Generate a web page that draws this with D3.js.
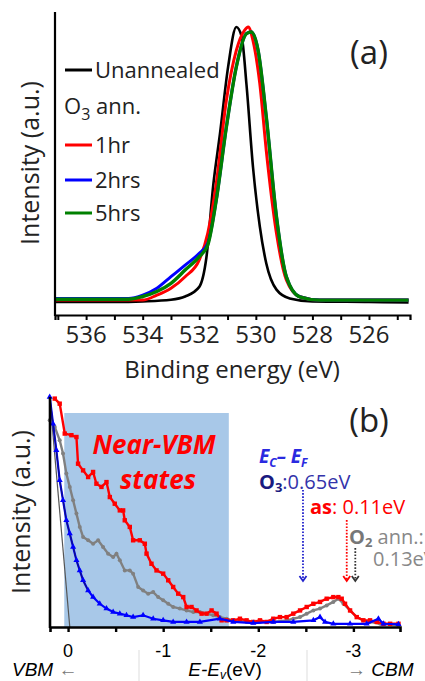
<!DOCTYPE html>
<html>
<head>
<meta charset="utf-8">
<script src="https://cdn.jsdelivr.net/npm/d3@7"></script>
<style>
    html, body { margin: 0; padding: 0; background: #fff; overflow: hidden; }
    svg { display: block; }
    .cal { font-family: 'Open Sans', 'Lato', sans-serif; }
    .ari { font-family: 'Liberation Sans', Arial, sans-serif; }
</style>
</head>
<body>
<div id="chart"></div>
<script>
// ---- panel (a): O 1s spectra, [binding energy (eV), normalised intensity]
const bindingTicks = [537, 536, 535, 534, 533, 532, 531, 530, 529, 528, 527, 526, 525];
const bindingLabels = [536, 534, 532, 530, 528, 526];

const unannealed = [
    [537.1, 0.0], [536, 0.0], [535, 0.0], [534, 0.002], [533, 0.008], [532.5, 0.02],
    [532, 0.055], [531.75, 0.16], [531.5, 0.43], [531.27, 0.61], [530.98, 0.855],
    [530.69, 1.0], [530.5, 0.965], [530.33, 0.79], [530.1, 0.49], [529.86, 0.275],
    [529.63, 0.14], [529.27, 0.045], [528.8, 0.013], [528, 0.002], [526, 0.0], [524.6, -0.002]
];
const o3Ann1hr = [
    [537.1, 0.007], [534, 0.007], [533.5, 0.025], [533, 0.05], [532.5, 0.092], [532, 0.153],
    [531.7, 0.25], [531.4, 0.43], [531.04, 0.734], [530.69, 0.915], [530.4, 0.988],
    [530.27, 1.0], [530.1, 0.95], [529.86, 0.794], [529.63, 0.55], [529.27, 0.25],
    [528.92, 0.08], [528.45, 0.019], [527.75, 0.007], [524.6, 0.007]
];
const o3Ann2hrs = [
    [537.1, 0.013], [534.5, 0.013], [534, 0.025], [533.5, 0.05], [533, 0.092], [532.5, 0.134],
    [532, 0.177], [531.7, 0.213], [531.4, 0.37], [531.04, 0.637], [530.69, 0.855],
    [530.33, 0.976], [530.16, 0.982], [529.92, 0.915], [529.63, 0.673], [529.27, 0.31],
    [528.92, 0.092], [528.45, 0.019], [527.75, 0.007], [524.6, 0.007]
];
const o3Ann5hrs = [
    [537.1, 0.01], [534.5, 0.01], [534, 0.02], [533.5, 0.038], [533, 0.068], [532.5, 0.116],
    [532, 0.165], [531.7, 0.207], [531.4, 0.37], [531.04, 0.637], [530.69, 0.855],
    [530.33, 0.976], [530.16, 0.982], [529.92, 0.915], [529.63, 0.673], [529.27, 0.31],
    [528.92, 0.092], [528.45, 0.019], [527.75, 0.007], [524.6, 0.007]
];
const legendNames = ['Unannealed', '1hr', '2hrs', '5hrs'];
const legendColors = ['#000000', '#ff0000', '#0000ff', '#008000'];

// ---- panel (b): valence band edge, [E - Ev (eV), intensity]
const vbTicks = [0, -0.5, -1, -1.5, -2, -2.5, -3];
const vbLabels = [0, -1, -2, -3];
const nearVbmRange = [0.04, -1.69];
const vbmFit = [[0.193, 1.0], [-0.018, 0.0]];

const vbAsGrown = [
    [0.14, 0.993], [0.088, 0.971], [0.035, 0.841], [-0.035, 0.834], [-0.088, 0.826],
    [-0.105, 0.71], [-0.158, 0.681], [-0.211, 0.652], [-0.263, 0.674], [-0.298, 0.623],
    [-0.351, 0.609], [-0.404, 0.63], [-0.439, 0.565], [-0.491, 0.536], [-0.544, 0.507],
    [-0.579, 0.507], [-0.596, 0.464], [-0.649, 0.435], [-0.684, 0.377], [-0.754, 0.377],
    [-0.807, 0.362], [-0.825, 0.319], [-0.877, 0.275], [-0.93, 0.246], [-1.0, 0.232],
    [-1.053, 0.203], [-1.105, 0.174], [-1.158, 0.145], [-1.211, 0.13], [-1.246, 0.087],
    [-1.298, 0.087], [-1.351, 0.072], [-1.404, 0.058], [-1.456, 0.058], [-1.509, 0.072],
    [-1.561, 0.058], [-1.614, 0.029], [-1.667, 0.029], [-1.737, 0.029], [-1.807, 0.036],
    [-1.877, 0.029], [-1.947, 0.022], [-2.018, 0.029], [-2.088, 0.022], [-2.158, 0.036],
    [-2.228, 0.043], [-2.298, 0.043], [-2.368, 0.058], [-2.439, 0.072], [-2.509, 0.087],
    [-2.579, 0.101], [-2.649, 0.109], [-2.719, 0.123], [-2.789, 0.13], [-2.842, 0.13],
    [-2.877, 0.123], [-2.912, 0.101], [-2.965, 0.072], [-3.035, 0.043], [-3.105, 0.029],
    [-3.175, 0.029], [-3.246, 0.022], [-3.316, 0.014], [-3.386, 0.014], [-3.474, 0.014]
];
const vbO2Ann = [
    [0.193, 0.899], [0.14, 0.87], [0.088, 0.812], [0.053, 0.754], [0.018, 0.667],
    [-0.018, 0.609], [-0.053, 0.551], [-0.088, 0.493], [-0.123, 0.435], [-0.158, 0.391],
    [-0.211, 0.377], [-0.263, 0.362], [-0.316, 0.377], [-0.368, 0.348], [-0.421, 0.319],
    [-0.474, 0.304], [-0.509, 0.319], [-0.544, 0.29], [-0.596, 0.246], [-0.649, 0.246],
    [-0.684, 0.232], [-0.737, 0.174], [-0.789, 0.159], [-0.842, 0.145], [-0.895, 0.152],
    [-0.947, 0.13], [-1.0, 0.116], [-1.053, 0.101], [-1.105, 0.087], [-1.175, 0.08],
    [-1.246, 0.072], [-1.316, 0.065], [-1.386, 0.065], [-1.456, 0.058], [-1.526, 0.051],
    [-1.596, 0.043], [-1.667, 0.036], [-1.737, 0.029], [-1.877, 0.022], [-2.018, 0.022],
    [-2.158, 0.022], [-2.298, 0.029], [-2.368, 0.036], [-2.439, 0.043], [-2.509, 0.058],
    [-2.579, 0.072], [-2.649, 0.08], [-2.719, 0.094], [-2.789, 0.109], [-2.842, 0.123],
    [-2.895, 0.101], [-2.965, 0.072], [-3.035, 0.043], [-3.105, 0.029], [-3.175, 0.022],
    [-3.281, 0.014], [-3.474, 0.007]
];
const vbO3Ann = [
    [0.193, 1.0], [0.158, 0.884], [0.123, 0.768], [0.088, 0.638], [0.053, 0.551],
    [0.018, 0.464], [-0.018, 0.406], [-0.053, 0.348], [-0.088, 0.29], [-0.123, 0.246],
    [-0.158, 0.203], [-0.211, 0.159], [-0.263, 0.13], [-0.333, 0.101], [-0.404, 0.08],
    [-0.474, 0.065], [-0.544, 0.058], [-0.614, 0.051], [-0.684, 0.043], [-0.789, 0.051],
    [-0.895, 0.036], [-1.0, 0.029], [-1.105, 0.022], [-1.246, 0.022], [-1.386, 0.022],
    [-1.596, 0.036], [-1.737, 0.022], [-1.947, 0.017], [-2.158, 0.022], [-2.368, 0.022],
    [-2.579, 0.029], [-2.649, 0.043], [-2.702, 0.022], [-2.789, 0.014], [-2.965, 0.014],
    [-3.14, 0.014], [-3.263, 0.036], [-3.316, 0.014], [-3.474, 0.012]
];
// conduction band minimum arrows: E position, top and bottom intensity
const cbmArrows = [
    { e: -2.47, top: 0.596, bottom: 0.2, color: '#2222cc' },
    { e: -2.93, top: 0.465, bottom: 0.2, color: '#ff0000' },
    { e: -3.02, top: 0.343, bottom: 0.2, color: '#333333' }
];

const WIDTH = 425;
const HEIGHT = 681;

const svg = d3.select('#chart').append('svg')
    .attr('width', WIDTH)
    .attr('height', HEIGHT);

drawPanelA();
drawPanelB();

function drawPanelA() {
    const x = d3.scaleLinear().domain([537.1, 524.55]).range([55, 410]);
    const y = d3.scaleLinear().domain([0, 1]).range([302, 27]);
    const g = svg.append('g');

    const line = d3.line()
        .x((d) => x(d[0]))
        .y((d) => y(d[1]))
        .curve(d3.curveMonotoneX);

    const series = [unannealed, o3Ann1hr, o3Ann2hrs, o3Ann5hrs];
    const widths = [2.6, 3, 3, 3.4];
    series.forEach((s, i) => {
        g.append('path')
            .datum(s)
            .attr('d', line)
            .attr('fill', 'none')
            .attr('stroke', legendColors[i])
            .attr('stroke-width', widths[i])
            .attr('stroke-linejoin', 'round');
    });

    // axes
    const xAxis = d3.axisBottom(x)
        .tickValues(bindingTicks)
        .tickSize(5)
        .tickFormat('');
    g.append('g')
        .attr('transform', 'translate(0,315)')
        .call(xAxis)
        .call((sel) => sel.select('.domain').attr('stroke-width', 2.2))
        .call((sel) => sel.selectAll('.tick line').attr('stroke-width', 2));

    g.selectAll('.xlab')
        .data(bindingLabels)
        .join('text')
        .attr('class', 'cal')
        .attr('x', (d) => x(d))
        .attr('y', 343)
        .attr('text-anchor', 'middle')
        .attr('font-size', 24)
        .attr('fill', '#222')
        .text((d) => d);

    g.append('line')
        .attr('x1', 55).attr('x2', 55)
        .attr('y1', 12).attr('y2', 316)
        .attr('stroke', '#000')
        .attr('stroke-width', 2.2);

    g.append('text')
        .attr('class', 'cal')
        .attr('x', 232)
        .attr('y', 378)
        .attr('text-anchor', 'middle')
        .attr('font-size', 24)
        .attr('fill', '#222')
        .text('Binding energy (eV)');

    g.append('text')
        .attr('class', 'cal')
        .attr('transform', 'translate(39,163) rotate(-90)')
        .attr('text-anchor', 'middle')
        .attr('font-size', 25)
        .attr('fill', '#222')
        .text('Intensity (a.u.)');

    g.append('text')
        .attr('class', 'cal')
        .attr('x', 369)
        .attr('y', 64)
        .attr('text-anchor', 'middle')
        .attr('font-size', 33)
        .attr('fill', '#222')
        .text('(a)');

    // legend
    const rows = [70, 145, 180, 213];
    legendNames.forEach((name, i) => {
        g.append('line')
            .attr('x1', 65).attr('x2', 92)
            .attr('y1', rows[i]).attr('y2', rows[i])
            .attr('stroke', legendColors[i])
            .attr('stroke-width', 3);
        g.append('text')
            .attr('class', 'cal')
            .attr('x', 95)
            .attr('y', rows[i] + 8)
            .attr('font-size', 22)
            .attr('fill', '#222')
            .text(name);
    });
    const o3 = g.append('text')
        .attr('class', 'cal')
        .attr('x', 64)
        .attr('y', 114)
        .attr('font-size', 22)
        .attr('fill', '#222');
    o3.append('tspan').text('O');
    o3.append('tspan').attr('dy', 6).attr('font-size', 16).text('3');
    o3.append('tspan').attr('dy', -6).text(' ann.');
}

function drawPanelB() {
    const x = d3.scaleLinear().domain([0.19, -3.49]).range([50, 400]);
    const y = d3.scaleLinear().domain([0, 1]).range([627, 397]);
    const g = svg.append('g');

    g.append('rect')
        .attr('x', x(nearVbmRange[0]))
        .attr('y', 413)
        .attr('width', x(nearVbmRange[1]) - x(nearVbmRange[0]))
        .attr('height', y(0) - 413)
        .attr('fill', '#a8c8e8');

    const line = d3.line()
        .x((d) => x(d[0]))
        .y((d) => y(d[1]));

    g.append('path')
        .datum(vbmFit)
        .attr('d', line)
        .attr('stroke', '#555')
        .attr('stroke-width', 1.2)
        .attr('fill', 'none');

    // gray O2 annealed, circles
    g.append('path')
        .datum(vbO2Ann)
        .attr('d', line)
        .attr('fill', 'none')
        .attr('stroke', '#808080')
        .attr('stroke-width', 2.4);
    g.selectAll('.pg')
        .data(vbO2Ann)
        .join('circle')
        .attr('cx', (d) => x(d[0]))
        .attr('cy', (d) => y(d[1]))
        .attr('r', 2)
        .attr('fill', '#808080');

    // red as-grown, squares
    g.append('path')
        .datum(vbAsGrown)
        .attr('d', line)
        .attr('fill', 'none')
        .attr('stroke', '#ff0000')
        .attr('stroke-width', 2.4);
    g.selectAll('.pr')
        .data(vbAsGrown)
        .join('rect')
        .attr('x', (d) => x(d[0]) - 2.2)
        .attr('y', (d) => y(d[1]) - 2.2)
        .attr('width', 4.4)
        .attr('height', 4.4)
        .attr('fill', '#ff0000');

    // blue O3 annealed, triangles
    g.append('path')
        .datum(vbO3Ann)
        .attr('d', line)
        .attr('fill', 'none')
        .attr('stroke', '#0000ff')
        .attr('stroke-width', 2.2);
    g.append('path')
        .datum(vbO3Ann.slice(0, 12))
        .attr('d', line)
        .attr('fill', 'none')
        .attr('stroke', '#101080')
        .attr('stroke-width', 1.2);
    const tri = d3.symbol().type(d3.symbolTriangle).size(16);
    g.selectAll('.pb')
        .data(vbO3Ann)
        .join('path')
        .attr('d', tri)
        .attr('transform', (d) => `translate(${x(d[0])},${y(d[1])})`)
        .attr('fill', '#0000ff');

    // axes
    const xAxis = d3.axisBottom(x)
        .tickValues(vbTicks)
        .tickSize(5)
        .tickFormat('');
    g.append('g')
        .attr('transform', 'translate(0,627)')
        .call(xAxis)
        .call((sel) => sel.select('.domain').attr('stroke-width', 2.6))
        .call((sel) => sel.selectAll('.tick line').attr('stroke-width', 2.4));

    g.append('line')
        .attr('x1', 50).attr('x2', 50)
        .attr('y1', 397).attr('y2', 628)
        .attr('stroke', '#000')
        .attr('stroke-width', 2.6);

    g.selectAll('.xlab')
        .data(vbLabels)
        .join('text')
        .attr('class', 'ari')
        .attr('x', (d) => x(d))
        .attr('y', 657)
        .attr('text-anchor', 'middle')
        .attr('font-size', 18)
        .text((d) => (d === 0 ? '0' : '-' + Math.abs(d)));

    // separators under axis
    [139, 307].forEach((sx) => {
        g.append('line')
            .attr('x1', sx).attr('x2', sx)
            .attr('y1', 650).attr('y2', 681)
            .attr('stroke', '#ddd')
            .attr('stroke-width', 1);
    });

    g.append('text')
        .attr('class', 'ari')
        .attr('x', 12)
        .attr('y', 676)
        .attr('font-size', 19)
        .attr('font-style', 'italic')
        .text('VBM')
        .append('tspan')
        .attr('font-style', 'normal')
        .attr('fill', '#777')
        .text(' \u2190');

    const ev = g.append('text')
        .attr('class', 'ari')
        .attr('x', 225)
        .attr('y', 676)
        .attr('text-anchor', 'middle')
        .attr('font-size', 19);
    ev.append('tspan').attr('font-style', 'italic').text('E-E');
    ev.append('tspan').attr('font-style', 'italic').attr('font-size', 12).attr('dy', 3).text('v');
    ev.append('tspan').attr('dy', -3).text('(eV)');

    const cbm = g.append('text')
        .attr('class', 'ari')
        .attr('x', 347)
        .attr('y', 676)
        .attr('font-size', 19);
    cbm.append('tspan').attr('fill', '#777').text('\u2192 ');
    cbm.append('tspan').attr('font-style', 'italic').text('CBM');

    g.append('text')
        .attr('class', 'cal')
        .attr('transform', 'translate(30,512) rotate(-90)')
        .attr('text-anchor', 'middle')
        .attr('font-size', 25)
        .attr('fill', '#222')
        .text('Intensity (a.u.)');

    g.append('text')
        .attr('class', 'cal')
        .attr('x', 369)
        .attr('y', 432)
        .attr('text-anchor', 'middle')
        .attr('font-size', 33)
        .attr('fill', '#222')
        .text('(b)');

    g.append('text')
        .attr('class', 'cal')
        .attr('x', 154)
        .attr('y', 454)
        .attr('text-anchor', 'middle')
        .attr('font-size', 26)
        .attr('font-weight', 'bold')
        .attr('font-style', 'italic')
        .attr('fill', '#ff0000')
        .text('Near-VBM');
    g.append('text')
        .attr('class', 'cal')
        .attr('x', 158)
        .attr('y', 489)
        .attr('text-anchor', 'middle')
        .attr('font-size', 26)
        .attr('font-weight', 'bold')
        .attr('font-style', 'italic')
        .attr('fill', '#ff0000')
        .text('states');

    // Ec - EF annotations
    const ec = g.append('text')
        .attr('class', 'cal')
        .attr('x', 259)
        .attr('y', 463)
        .attr('font-size', 19)
        .attr('font-style', 'italic')
        .attr('font-weight', 'bold')
        .attr('fill', '#2a2ae0');
    ec.append('tspan').text('E');
    ec.append('tspan').attr('dy', 4).attr('font-size', 12).text('C');
    ec.append('tspan').attr('dy', -4).text('\u2013 E');
    ec.append('tspan').attr('dy', 4).attr('font-size', 12).text('F');

    const o3 = g.append('text')
        .attr('class', 'cal')
        .attr('x', 259)
        .attr('y', 489)
        .attr('font-size', 20)
        .attr('fill', '#3333aa');
    o3.append('tspan').attr('font-weight', 'bold').attr('fill', '#1a1a80').text('O');
    o3.append('tspan').attr('font-weight', 'bold').attr('fill', '#1a1a80').attr('dy', 3).attr('font-size', 13).text('3');
    o3.append('tspan').attr('dy', -3).text(':0.65eV');

    const as = g.append('text')
        .attr('class', 'cal')
        .attr('x', 310)
        .attr('y', 514)
        .attr('font-size', 20)
        .attr('fill', '#ff0000');
    as.append('tspan').attr('font-weight', 'bold').text('as');
    as.append('tspan').text(': 0.11eV');

    const o2 = g.append('text')
        .attr('class', 'cal')
        .attr('x', 349)
        .attr('y', 544)
        .attr('font-size', 20)
        .attr('fill', '#888');
    o2.append('tspan').attr('font-weight', 'bold').attr('fill', '#777').text('O');
    o2.append('tspan').attr('font-weight', 'bold').attr('fill', '#777').attr('dy', 3).attr('font-size', 13).text('2');
    o2.append('tspan').attr('dy', -3).text(' ann.:');
    g.append('text')
        .attr('class', 'cal')
        .attr('x', 373)
        .attr('y', 566)
        .attr('font-size', 20)
        .attr('fill', '#888')
        .text('0.13eV');

    cbmArrows.forEach((a) => {
        const ax = x(a.e);
        const yb = y(a.bottom);
        g.append('line')
            .attr('x1', ax).attr('x2', ax)
            .attr('y1', y(a.top)).attr('y2', yb - 1)
            .attr('stroke', a.color)
            .attr('stroke-width', 1.8)
            .attr('stroke-dasharray', '1.6,1.6');
        g.append('path')
            .attr('d', `M${ax - 3.5},${yb - 5}L${ax},${yb}L${ax + 3.5},${yb - 5}`)
            .attr('fill', 'none')
            .attr('stroke', a.color)
            .attr('stroke-width', 1.8);
    });
}
</script>
</body>
</html>
